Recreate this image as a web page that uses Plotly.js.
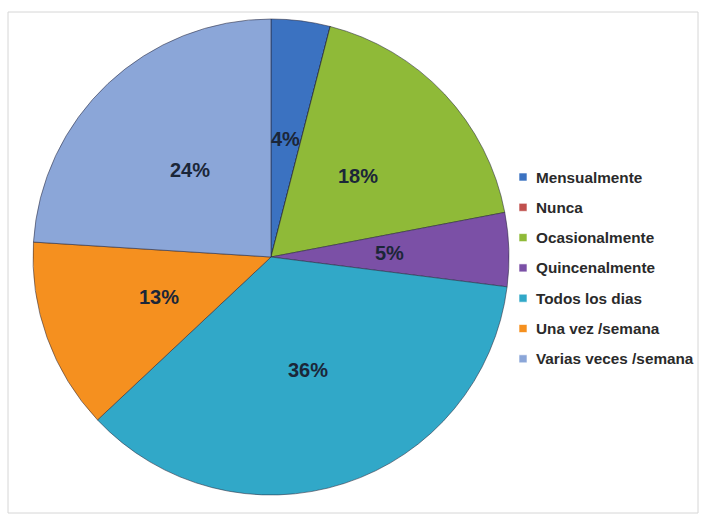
<!DOCTYPE html>
<html>
<head>
<meta charset="utf-8">
<script src="https://cdn.plot.ly/plotly-3.0.1.min.js"></script>
<style>
html,body{margin:0;padding:0;background:#fff;}
#chart{width:706px;height:517px;}
</style>
</head>
<body>
<div id="chart"></div>
<script>
// ---- data ----
const categories = ["Mensualmente", "Nunca", "Ocasionalmente", "Quincenalmente", "Todos los dias", "Una vez /semana", "Varias veces /semana"];
const percents = [4, 0, 18, 5, 36, 13, 24];
const sliceColors = ["#3b72c1", "#c0504d", "#8fba38", "#7b50a6", "#31a8c8", "#f5901f", "#8ba6d8"];

// ---- layout geometry (pixels) ----
const W = 706, H = 517;
const cx = 271, cy = 257, R = 238;
const px = x => x / W;
const py = y => 1 - y / H;

const trace = {
  type: "pie",
  labels: categories,
  values: percents,
  sort: false,
  direction: "clockwise",
  rotation: 0,
  textinfo: "none",
  hoverinfo: "label+percent",
  marker: {colors: sliceColors, line: {color: "rgba(40,40,60,0.55)", width: 1}},
  domain: {x: [px(cx - R), px(cx + R)], y: [py(cy + R), py(cy - R)]},
  showlegend: false
};

// percentage labels placed at half radius, at each slice's mid angle
const total = percents.reduce((a, b) => a + b, 0);
const annotations = [];
let cum = 0;
percents.forEach((v, i) => {
  const mid = (cum + v / 2) / total * 2 * Math.PI;
  cum += v;
  if (v <= 0) return;
  const x = cx + 0.5 * R * Math.sin(mid);
  const y = cy - 0.5 * R * Math.cos(mid);
  annotations.push({
    x: px(x), y: py(y), xref: "paper", yref: "paper",
    text: "<b>" + Math.round(v / total * 100) + "%</b>",
    showarrow: false, xanchor: "center", yanchor: "middle",
    font: {family: "Liberation Sans, Arial, sans-serif", size: 20, color: "#1b2638"}
  });
});

// legend drawn as annotations + square markers
const legX = 523, legY0 = 177, legStep = 30.3, sq = 8;
const shapes = [{
  type: "rect", xref: "paper", yref: "paper",
  x0: px(8), x1: px(698), y0: py(513), y1: py(12),
  line: {color: "#d6d6d6", width: 1}, fillcolor: "rgba(0,0,0,0)", layer: "below"
}];
categories.forEach((c, i) => {
  const y = legY0 + i * legStep;
  shapes.push({
    type: "rect", xref: "paper", yref: "paper",
    x0: px(legX - sq / 2), x1: px(legX + sq / 2), y0: py(y + sq / 2), y1: py(y - sq / 2),
    fillcolor: sliceColors[i], line: {color: "rgba(255,255,255,0.6)", width: 1}
  });
  annotations.push({
    x: px(legX + 11), y: py(y), xref: "paper", yref: "paper",
    text: "<b>" + c + "</b>", showarrow: false, xanchor: "left", yanchor: "middle",
    font: {family: "Liberation Sans, Arial, sans-serif", size: 15.3, color: "#2a2a2a"}
  });
});

const layout = {
  width: W, height: H,
  margin: {l: 0, r: 0, t: 0, b: 0},
  paper_bgcolor: "#ffffff",
  showlegend: false,
  annotations: annotations,
  shapes: shapes
};

Plotly.newPlot("chart", [trace], layout, {displayModeBar: false, staticPlot: true});
</script>
</body>
</html>
